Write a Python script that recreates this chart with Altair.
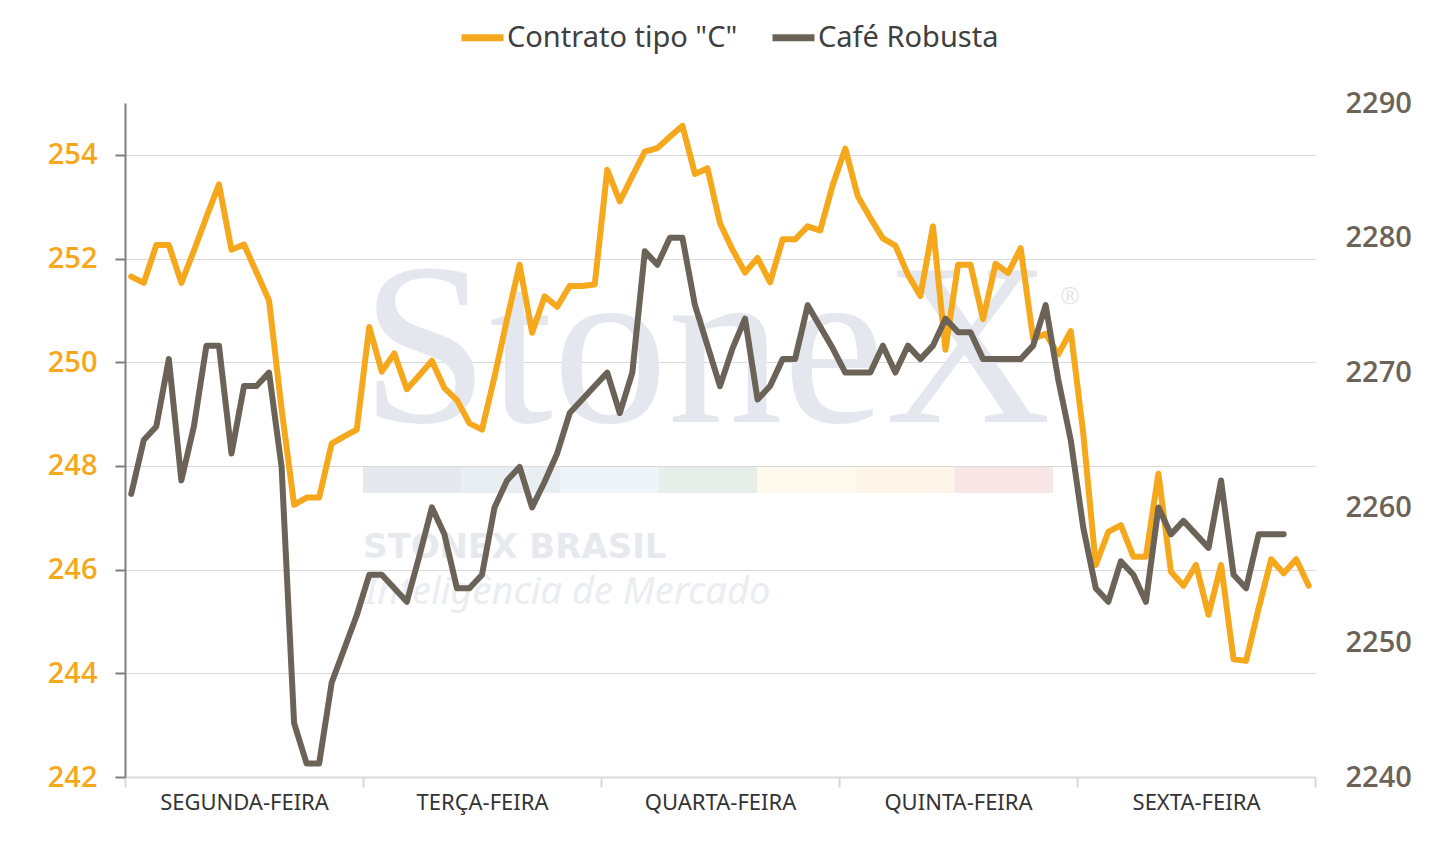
import json
import altair as alt
import pandas as pd

# ---------------- data ----------------
days = ["SEGUNDA-FEIRA", "TERÇA-FEIRA", "QUARTA-FEIRA", "QUINTA-FEIRA", "SEXTA-FEIRA"]
points_per_day = 19

series_names = ['Contrato tipo "C"', "Café Robusta"]
series_colors = ["#f6a81c", "#6b6357"]

contrato_c = [
    251.65, 251.53, 252.26, 252.26, 251.53, 252.15, 252.80, 253.43, 252.17, 252.27,
    251.73, 251.19, 249.10, 247.25, 247.39, 247.39, 248.43, 248.57, 248.70,
    250.68, 249.82, 250.17, 249.48, 249.75, 250.03, 249.50, 249.27, 248.82, 248.70,
    249.72, 250.83, 251.88, 250.57, 251.27, 251.07, 251.47, 251.47, 251.50,
    253.71, 253.10, 253.59, 254.06, 254.13, 254.35, 254.56, 253.63, 253.74, 252.68,
    252.17, 251.73, 252.01, 251.54, 252.37, 252.37, 252.62, 252.54, 253.42,
    254.12, 253.20, 252.78, 252.39, 252.25, 251.69, 251.28, 252.62, 250.24, 251.88,
    251.88, 250.83, 251.90, 251.72, 252.20, 250.45, 250.55, 250.15, 250.60,
    248.63, 246.09, 246.73, 246.86, 246.25, 246.25, 247.85, 245.96, 245.69, 246.09,
    245.13, 246.09, 244.27, 244.24, 245.25, 246.20, 245.93, 246.20, 245.69,
]

robusta = [
    2261, 2265, 2266, 2271, 2262, 2266, 2272, 2272, 2264, 2269,
    2269, 2270, 2263, 2244, 2241, 2241, 2247, 2249.5, 2252,
    2255, 2255, 2254, 2253, 2256.4, 2260, 2258, 2254, 2254, 2255,
    2260, 2262, 2263, 2260, 2261.9, 2264, 2267, 2268, 2269,
    2270, 2267, 2270, 2279, 2278, 2280, 2280, 2275, 2272, 2269,
    2271.8, 2274, 2268, 2269, 2271, 2271, 2275, 2273.4, 2271.8,
    2270, 2270, 2270, 2272, 2270, 2272, 2271, 2272, 2274, 2273,
    2273, 2271, 2271, 2271, 2271, 2272, 2275, 2269.5, 2265,
    2258.5, 2254, 2253, 2256, 2255, 2253, 2260, 2258, 2259, 2258,
    2257, 2262, 2255, 2254, 2258, 2258, 2258,
]

left_ticks = [242, 244, 246, 248, 250, 252, 254]
left_domain = [242, 255]
right_ticks = [2240, 2250, 2260, 2270, 2280, 2290]
right_domain = [2240, 2290]

# watermark (decorative)
wm_strip_colors = ["#e5e9ee", "#e9eef3", "#eff4f9", "#e6eee9", "#fdf9ec", "#fdf5e8", "#f8e6e7"]

# ---------------- layout ----------------
W, H = 1190, 674
n_total = points_per_day * len(days)
day_px = W / len(days)

df_c = pd.DataFrame({"pos": [i + 0.5 for i in range(len(contrato_c))],
                     "valor": contrato_c, "serie": series_names[0]})
df_r = pd.DataFrame({"pos": [i + 0.5 for i in range(len(robusta))],
                     "valor": robusta, "serie": series_names[1]})

boundaries = [i * points_per_day for i in range(len(days) + 1)]
label_list = days + [""]
label_expr = json.dumps(label_list, ensure_ascii=False) + f"[round(datum.value/{points_per_day})]"

x_enc = alt.X(
    "pos:Q",
    scale=alt.Scale(domain=[0, n_total], nice=False, zero=False),
    title=None,
    axis=alt.Axis(
        values=boundaries, labelExpr=label_expr, labelOffset=day_px / 2,
        grid=False, domainColor="#d9d9d9", domainWidth=2,
        tickColor="#d9d9d9", tickWidth=2, tickSize=10,
        labelFont="Noto Sans", labelFontSize=22, labelColor="#333333",
        labelPadding=5, labelOverlap=False, labelBound=False, labelFlush=False,
    ),
)

y_left = alt.Y(
    "valor:Q",
    scale=alt.Scale(domain=left_domain, nice=False, zero=False),
    title=None,
    axis=alt.Axis(
        values=left_ticks, grid=True, gridColor="#d9d9d9", gridWidth=1,
        domainColor="#7f7f7f", domainWidth=2, tickColor="#7f7f7f", tickWidth=2,
        tickSize=10, labelPadding=18, labelFont="Open Sans", labelFontSize=29,
        labelFontWeight=600, labelColor=series_colors[0], format="d",
    ),
)

y_right = alt.Y(
    "valor:Q",
    scale=alt.Scale(domain=right_domain, nice=False, zero=False),
    title=None,
    axis=alt.Axis(
        orient="right", values=right_ticks, grid=False, domain=False, ticks=False,
        tickSize=0, labelPadding=30, labelFont="Open Sans", labelFontSize=29,
        labelFontWeight=600, labelColor="#6b6358", format="d",
    ),
)

color_enc = alt.Color(
    "serie:N",
    scale=alt.Scale(domain=series_names, range=series_colors),
    legend=alt.Legend(
        title=None, orient="none", legendX=333, legendY=-90, direction="horizontal",
        symbolType="stroke", symbolStrokeWidth=7, symbolSize=1764,
        labelFont="Noto Sans", labelFontSize=29, labelColor="#3f3f3f",
        labelOffset=0, columnPadding=20, padding=0, labelLimit=400,
    ),
)

# ---------------- watermark ----------------
def px_to_x(px):
    return (px - 125) / W * n_total

def py_to_left(py):
    return left_domain[0] + (777 - py) / H * (left_domain[1] - left_domain[0])

wm_text = pd.DataFrame({"pos": [px_to_x(361)], "valor": [py_to_left(422)], "t": ["StoneX"]})
wm_reg = pd.DataFrame({"pos": [px_to_x(1060)], "valor": [py_to_left(304)], "t": ["®"]})
wm_brasil = pd.DataFrame({"pos": [px_to_x(363)], "valor": [py_to_left(558)], "t": ["STONEX BRASIL"]})
wm_intel = pd.DataFrame({"pos": [px_to_x(365)], "valor": [py_to_left(604)], "t": ["Inteligência de Mercado"]})

seg_w = (px_to_x(1053) - px_to_x(363)) / len(wm_strip_colors)
strip_df = pd.DataFrame({
    "pos": [px_to_x(363) + k * seg_w for k in range(len(wm_strip_colors))],
    "pos2": [px_to_x(363) + (k + 1) * seg_w for k in range(len(wm_strip_colors))],
    "valor": [py_to_left(467)] * len(wm_strip_colors),
    "valor2": [py_to_left(493)] * len(wm_strip_colors),
    "c": wm_strip_colors,
})

l_stonex = alt.Chart(wm_text).mark_text(
    font="Liberation Serif", fontSize=230, color="#e4e8ee", align="left", baseline="alphabetic"
).encode(x=x_enc, y=y_left, text="t:N")
l_reg = alt.Chart(wm_reg).mark_text(
    font="Noto Sans", fontSize=24, color="#e4e8ee", align="left", baseline="alphabetic"
).encode(x=x_enc, y=y_left, text="t:N")
l_brasil = alt.Chart(wm_brasil).mark_text(
    font="DejaVu Sans", fontWeight="bold", fontSize=34, color="#e6e9ee", align="left", baseline="alphabetic"
).encode(x=x_enc, y=y_left, text="t:N")
l_intel = alt.Chart(wm_intel).mark_text(
    font="Noto Sans", fontStyle="italic", fontSize=38, color="#eaedf1",
    align="left", baseline="alphabetic"
).encode(x=x_enc, y=y_left, text="t:N")
l_strip = alt.Chart(strip_df).mark_rect().encode(
    x=x_enc, x2="pos2:Q", y=y_left, y2="valor2:Q", color=alt.Color("c:N", scale=None)
)

# ---------------- series ----------------
line_c = alt.Chart(df_c).mark_line(strokeWidth=6, strokeJoin="round", strokeCap="round").encode(
    x=x_enc, y=y_left, color=color_enc
)
line_r = alt.Chart(df_r).mark_line(strokeWidth=6, strokeJoin="round", strokeCap="round").encode(
    x=x_enc, y=y_right, color=color_enc
)

inner = alt.layer(l_strip, l_stonex, l_reg, l_brasil, l_intel, line_c)

chart = (
    alt.layer(inner, line_r)
    .resolve_scale(y="independent", color="shared")
    .properties(
        width=W, height=H,
        autosize=alt.AutoSizeParams(type="none"),
        padding={"left": 117, "top": 95, "right": 128, "bottom": 60},
        background="white",
    )
    .configure_view(stroke=None)
)

chart.save("out.html", embed_options={"renderer": "svg", "actions": False})
